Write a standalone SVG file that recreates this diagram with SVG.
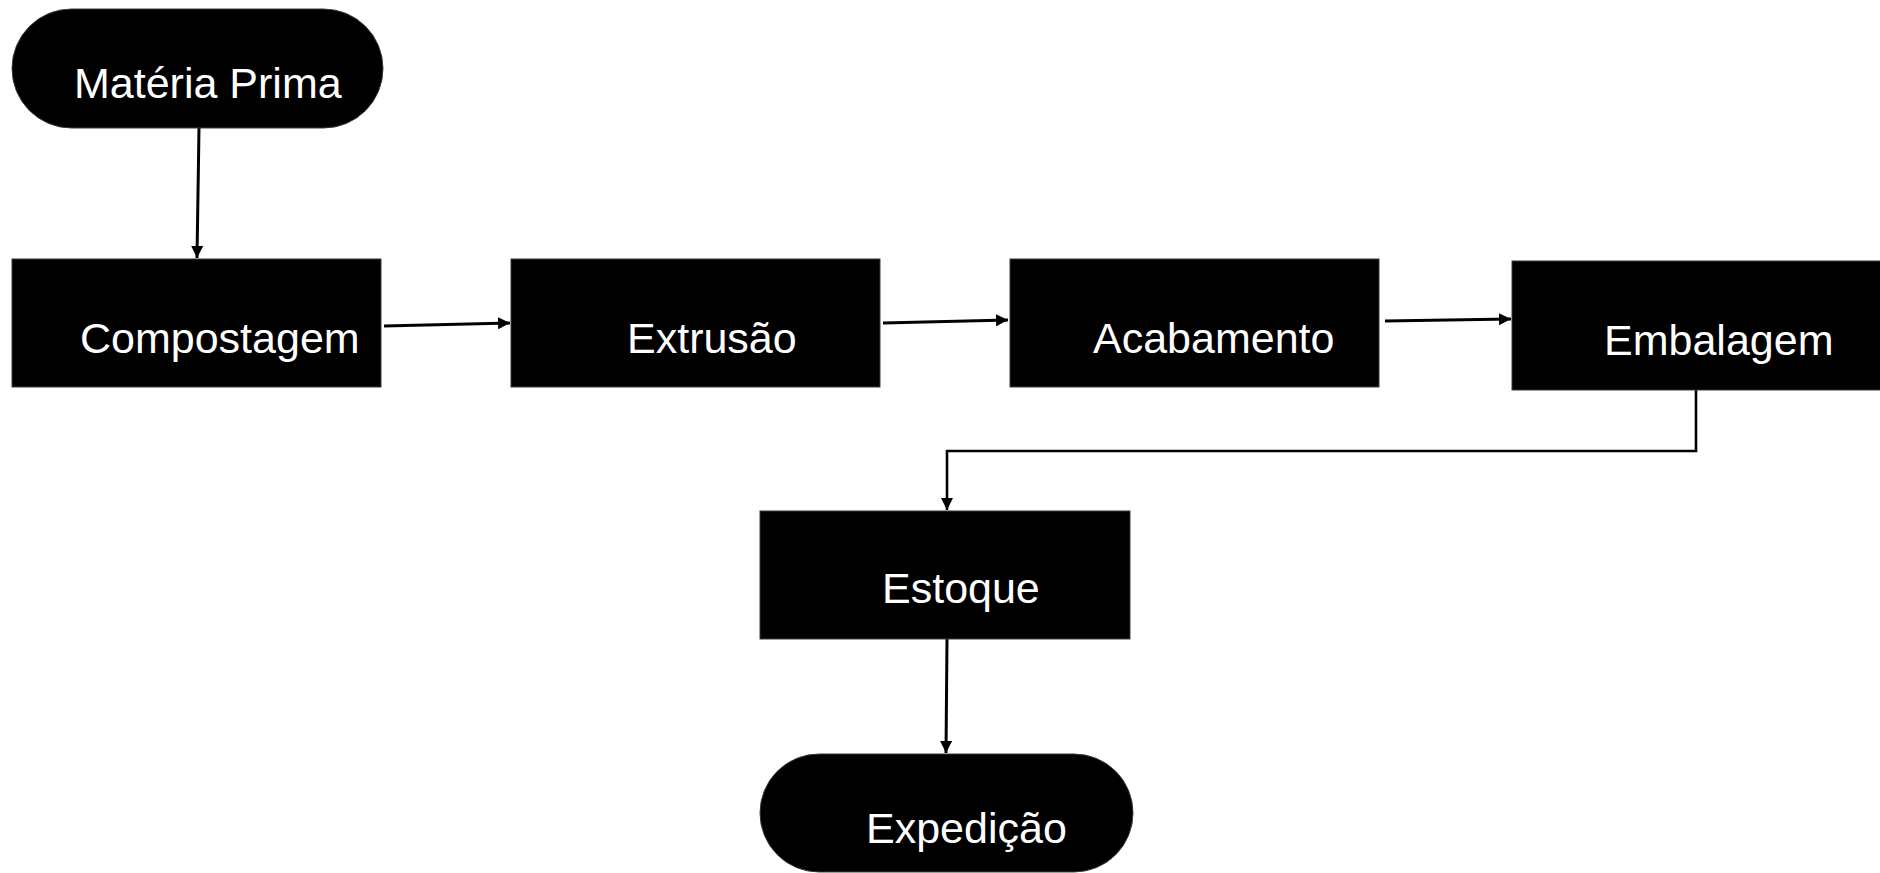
<svg xmlns="http://www.w3.org/2000/svg" width="1880" height="873" viewBox="0 0 1880 873">
<style>
.node{fill:#000;stroke:#3a3a3a;stroke-width:1}
.lbl{fill:#fff;font-family:"Liberation Sans",Arial,sans-serif;font-size:43px}
.conn{fill:none;stroke:#000;stroke-width:3}
</style>
<defs>
<marker id="ah" markerUnits="userSpaceOnUse" markerWidth="12" markerHeight="12" refX="12" refY="6" orient="auto">
<path d="M0,0 L12,6 L0,12 z" fill="#000"/>
</marker>
</defs>
<rect width="1880" height="873" fill="#fff"/>
<g id="connectors">
<line class="conn" x1="199" y1="128" x2="197" y2="258" marker-end="url(#ah)"/>
<line class="conn" x1="384" y1="326" x2="510" y2="323" marker-end="url(#ah)"/>
<line class="conn" x1="883" y1="323" x2="1008" y2="320" marker-end="url(#ah)"/>
<line class="conn" x1="1385" y1="321" x2="1511" y2="319" marker-end="url(#ah)"/>
<polyline class="conn" style="stroke-width:2.6" points="1696,390 1696,451 947,451 947,510" marker-end="url(#ah)"/>
<line class="conn" x1="947" y1="639" x2="946" y2="753" marker-end="url(#ah)"/>
</g>
<g id="materia-prima">
<rect class="node" x="12" y="9" width="371" height="119" rx="59.5"/>
<text class="lbl" x="74" y="98">Matéria Prima</text>
</g>
<g id="compostagem">
<rect class="node" x="12" y="259" width="369" height="128"/>
<text class="lbl" x="80" y="353">Compostagem</text>
</g>
<g id="extrusao">
<rect class="node" x="511" y="259" width="369" height="128"/>
<text class="lbl" x="627" y="353">Extrusão</text>
</g>
<g id="acabamento">
<rect class="node" x="1010" y="259" width="369" height="128"/>
<text class="lbl" x="1093" y="353">Acabamento</text>
</g>
<g id="embalagem">
<rect class="node" x="1512" y="261" width="369" height="129"/>
<text class="lbl" x="1604" y="355">Embalagem</text>
</g>
<g id="estoque">
<rect class="node" x="760" y="511" width="370" height="128"/>
<text class="lbl" x="882" y="603">Estoque</text>
</g>
<g id="expedicao">
<rect class="node" x="760" y="754" width="373" height="118" rx="59"/>
<text class="lbl" x="866" y="843">Expedição</text>
</g>
</svg>
